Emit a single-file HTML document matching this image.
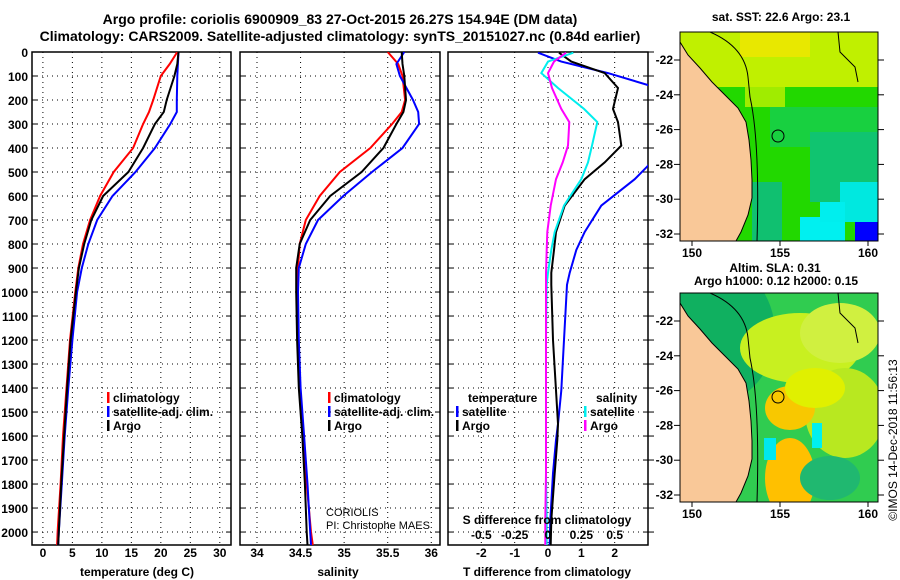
<!DOCTYPE html>
<html><head><meta charset="utf-8"><style>
html,body{margin:0;padding:0;background:#fff;}
svg{display:block;font-family:"Liberation Sans",sans-serif;}
</style></head><body>
<svg id="c" width="900" height="580" viewBox="0 0 900 580"></svg>
<script>
// ---- data ----
const depthsT=[0,50,100,200,250,300,400,500,600,700,800,900,1000,1200,1400,1600,1800,2000,2054];
const tempArgo=[23,22.8,22.3,21,20.5,19,17,14.5,10.2,8.2,7,6.1,5.6,4.7,4.1,3.6,3.1,2.7,2.6];
const tempClim=[22.8,21.5,20,18.7,18,17,15.3,12,9.7,8,6.8,6,5.5,4.6,4,3.4,3,2.5,2.4];
const tempSat=[23,22.9,22.8,22.7,22.7,21.6,19,15.7,11.8,9.2,7.7,6.6,5.8,5,4.3,3.7,3.2,2.7,2.6];
const salArgo=[35.66,35.67,35.69,35.71,35.68,35.6,35.45,35.2,34.84,34.61,34.49,34.45,34.45,34.46,34.48,34.52,34.55,34.57,34.58];
const salClim=[35.5,35.62,35.67,35.7,35.66,35.55,35.3,34.95,34.72,34.56,34.49,34.47,34.46,34.47,34.49,34.53,34.57,34.62,34.64];
const salSat=[35.69,35.6,35.64,35.79,35.85,35.86,35.67,35.32,34.99,34.7,34.56,34.48,34.47,34.48,34.5,34.54,34.58,34.61,34.62];
const depthsD=[3,40,88,150,237,292,390,460,530,640,750,825,920,970,1200,1410,1550,1617,1755,1950,2054];
const tdiffSat=[-0.3,0.4,1.8,3.3,3.8,3.8,3.5,3.1,2.6,1.6,1.1,0.85,0.65,0.57,0.48,0.4,0.3,0.24,0.15,0.07,0.05];
const tdiffArgo=[0.33,0.7,1.7,2.1,1.95,2.1,2.2,1.7,1.1,0.5,0.24,0.18,0.1,0.1,0.15,0.24,0.3,0.28,0.2,0.1,0.08];
const sdiffSat=[0.19,0.0,-0.05,0.075,0.27,0.37,0.33,0.3,0.25,0.12,0.05,0.025,0.0,-0.01,-0.015,-0.015,-0.015,-0.015,-0.015,-0.01,-0.01];
const sdiffArgo=[0.135,0.045,0.0,0.03,0.1,0.16,0.15,0.11,0.06,0.02,-0.005,-0.01,-0.015,-0.015,-0.015,-0.015,-0.015,-0.015,-0.015,-0.02,-0.02];
const depthTicks=[0,100,200,300,400,500,600,700,800,900,1000,1100,1200,1300,1400,1500,1600,1700,1800,1900,2000];
const tempTicks=[0,5,10,15,20,25,30];
const salTicks=[34,34.5,35,35.5,36];
const tdTicks=[-2,-1,0,1,2];
const sdTickLabels=["-0.5","-0.25","0","0.25","0.5"];
const latTicks=[-22,-24,-26,-28,-30,-32];
const lonTicks=[150,155,160];

const NS="http://www.w3.org/2000/svg";
const svg=document.getElementById('c');
function mk(tag,attrs,parent){const e=document.createElementNS(NS,tag);for(const k in attrs)e.setAttribute(k,attrs[k]);(parent||svg).appendChild(e);return e;}
function txt(x,y,s,size,anchor,bold,parent,fill){const t=mk('text',{x:x,y:y,'font-size':size,'text-anchor':anchor||'start','font-weight':bold?'bold':'normal',fill:fill||'#000'},parent);t.textContent=s;return t;}

const PT=52,PB=545,DMAX=2054;
const yD=d=>PT+(d/DMAX)*(PB-PT);
const panels=[
 {x0:32,x1:231,min:-1.85,max:31.9,ticks:tempTicks,name:'temperature-panel'},
 {x0:240,x1:440,min:33.805,max:36.1,ticks:salTicks,name:'salinity-panel'},
 {x0:448,x1:648,min:-3,max:3,ticks:tdTicks,name:'difference-panel'}
];
function sx(p,v){return p.x0+(v-p.min)/(p.max-p.min)*(p.x1-p.x0);}

let t=txt(340,24,"Argo profile: coriolis 6900909_83 27-Oct-2015 26.27S 154.94E (DM data)",14,'middle',true);

t=txt(340,41,"Climatology: CARS2009. Satellite-adjusted climatology: synTS_20151027.nc (0.84d earlier)",14,'middle',true);


depthTicks.forEach(d=>{const l=txt(28,yD(d)+5,String(d),12,'end',true);
});

panels.forEach((p,i)=>{
 const g=mk('g',{});
 
 const clip=mk('clipPath',{id:'cl'+i},g);mk('rect',{x:p.x0,y:PT,width:p.x1-p.x0,height:PB-PT},clip);
 depthTicks.forEach(d=>{const y=yD(d);mk('line',{x1:p.x0,x2:p.x1,y1:y,y2:y,stroke:'#000','stroke-width':1,'stroke-dasharray':'1,4'},g);
  mk('line',{x1:p.x0,x2:p.x0+5,y1:y,y2:y,stroke:'#000'},g);mk('line',{x1:p.x1-5,x2:p.x1,y1:y,y2:y,stroke:'#000'},g);});
 p.ticks.forEach(v=>{const x=sx(p,v);mk('line',{x1:x,x2:x,y1:PT,y2:PB,stroke:'#000','stroke-dasharray':'1,4'},g);
  const l=txt(x,557,String(v),12,'middle',true,g);});
 mk('rect',{x:p.x0,y:PT,width:p.x1-p.x0,height:PB-PT,fill:'none',stroke:'#000','stroke-width':1.5},g);
 p.g=g;
});
depthTicks.forEach(d=>{mk('line',{x1:648,x2:654,y1:yD(d),y2:yD(d),stroke:'#000'});});

function line(p,vals,depths,color,name,scale,i){
 const pts=vals.map((v,k)=>sx(p,v*(scale||1)).toFixed(1)+','+yD(depths[k]).toFixed(1)).join(' ');
 const pl=mk('polyline',{points:pts,fill:'none',stroke:color,'stroke-width':2,'clip-path':'url(#cl'+i+')'},p.g);
 
}
line(panels[0],tempClim,depthsT,'#f00','temp-climatology-line',1,0);
line(panels[0],tempSat,depthsT,'#00f','temp-satellite-line',1,0);
line(panels[0],tempArgo,depthsT,'#000','temp-argo-line',1,0);
line(panels[1],salClim,depthsT,'#f00','sal-climatology-line',1,1);
line(panels[1],salSat,depthsT,'#00f','sal-satellite-line',1,1);
line(panels[1],salArgo,depthsT,'#000','sal-argo-line',1,1);
line(panels[2],tdiffSat,depthsD,'#00f','tdiff-satellite-line',1,2);
line(panels[2],tdiffArgo,depthsD,'#000','tdiff-argo-line',1,2);
line(panels[2],sdiffSat,depthsD,'#0ee','sdiff-satellite-line',4,2);
line(panels[2],sdiffArgo,depthsD,'#f0f','sdiff-argo-line',4,2);

t=txt(137,576,"temperature (deg C)",12,'middle',true);
t=txt(338,576,"salinity",12,'middle',true);
t=txt(547,576,"T difference from climatology",12,'middle',true);
t=txt(547,524,"S difference from climatology",12,'middle',true);
sdTickLabels.forEach((s,k)=>{const l=txt(sx(panels[2],tdTicks[k]),539,s,12,'middle',true);});

function legend(x,y,items,name){
 const g=mk('g',{});
 items.forEach((it,k)=>{const yy=y+k*14;
  if(it[1])mk('rect',{x:x,y:yy-10,width:2.5,height:11,fill:it[1]},g);
  txt(x+6,yy,it[0],12,'start',true,g);});
}
legend(107,402,[["climatology","#f00"],["satellite-adj. clim.","#00f"],["Argo","#000"]],'legend-temperature');
legend(328,402,[["climatology","#f00"],["satellite-adj. clim.","#00f"],["Argo","#000"]],'legend-salinity');
legend(462,402,[["temperature",null]],'legend-diff-temp-title');
legend(456,416,[["satellite","#00f"],["Argo","#000"]],'legend-diff-temp');
legend(590,402,[["salinity",null]],'legend-diff-sal-title');
legend(584,416,[["satellite","#0ee"],["Argo","#f0f"]],'legend-diff-sal');
t=txt(326,516,"CORIOLIS",11,'start',false);
t=txt(326,529,"PI: Christophe MAES",11,'start',false);

// ---- maps ----
const coast=[[680,32],[680,42],[688,55],[700,68],[712,82],[725,95],[738,108],[746,122],[749,140],[751,160],[752,180],[752,198],[748,215],[741,232],[736,241],[680,241]];
function map(top,name,bg,blobs,title){
 const g=mk('g',{});
 const id='m'+top;const cp=mk('clipPath',{id:id},g);mk('rect',{x:680,y:top,width:198,height:209},cp);
 const gi=mk('g',{'clip-path':'url(#'+id+')'},g);
 mk('rect',{x:680,y:top,width:198,height:209,fill:bg},gi);
 blobs.forEach(b=>{if(b[0]=='r')mk('rect',{x:b[1],y:top+b[2],width:b[3],height:b[4],fill:b[5]},gi);
  else mk('ellipse',{cx:b[1],cy:top+b[2],rx:b[3],ry:b[4],fill:b[5]},gi);});
 const dy=top-32;
 mk('polygon',{points:coast.map(c=>c[0]+','+(c[1]+dy)).join(' '),fill:'#f9c898'},gi);
 mk('polyline',{points:coast.slice(0,-1).map(c=>c[0]+','+(c[1]+dy)).join(' '),fill:'none',stroke:'#000','stroke-width':1},gi);
 mk('path',{d:`M710 ${top} Q745 ${top+15} 748 ${top+45} L750 ${top+65} Q760 ${top+110} 757 ${top+209}`,fill:'none',stroke:'#000','stroke-width':1},gi);
 mk('path',{d:`M838 ${top} L840 ${top+20} L855 ${top+35} L858 ${top+50}`,fill:'none',stroke:'#000','stroke-width':1},gi);
 mk('circle',{cx:778,cy:top+104,r:6,fill:'none',stroke:'#000'},gi);
 mk('rect',{x:680,y:top,width:198,height:209,fill:'none',stroke:'#000'},g);
 latTicks.forEach((l,k)=>{const y=top+28+k*34.8;mk('line',{x1:674,x2:680,y1:y,y2:y,stroke:'#000'},g);mk('line',{x1:878,x2:884,y1:y,y2:y,stroke:'#000'},g);
  const tl=txt(673,y+4,String(l),12,'end',true,g);});
 lonTicks.forEach((l,k)=>{const x=692+k*88;mk('line',{x1:x,x2:x,y1:top+209,y2:top+214,stroke:'#000'},g);
  const tl=txt(x,top+225,String(l),12,'middle',true,g);});
 title.forEach(s=>{const tl=txt(s[1],s[2],s[0],12,'middle',true,g);});
}
map(32,'sst-map','#22d800',[
 ['r',680,0,198,55,'#c0f000'],['r',740,0,70,25,'#e8e800'],['r',745,55,40,20,'#a0ec00'],
 ['r',770,75,108,40,'#18d040'],['r',810,100,68,70,'#10c470'],['r',840,150,38,40,'#00e8e0'],
 ['r',800,185,45,24,'#00f0f0'],['r',820,170,25,20,'#00eeee'],
 ['r',855,190,23,19,'#0000ff'],['r',752,150,30,59,'#10c070']
],[["sat. SST: 22.6  Argo: 23.1",781,21]]);
map(293,'sla-map','#30cc50',[
 ['e',715,40,60,70,'#10b060'],['e',800,55,60,35,'#c8f020'],['e',845,120,40,45,'#b8e820'],
 ['e',790,115,25,22,'#f8c800'],['e',790,185,25,40,'#ffc000'],['e',840,40,40,30,'#d0f040'],
 ['e',815,95,30,20,'#e0f000'],['e',830,185,30,22,'#20b870'],['r',812,130,10,25,'#00f0f0'],['r',764,145,12,22,'#00e8f0']
],[["Altim. SLA: 0.31",775,272],["Argo h1000: 0.12  h2000: 0.15",776,285]]);
t=txt(0,0,"©IMOS 14-Dec-2018 11:56:13",12,'middle',false);
t.setAttribute('transform','translate(897,440) rotate(-90)');


</script>
</body></html>
